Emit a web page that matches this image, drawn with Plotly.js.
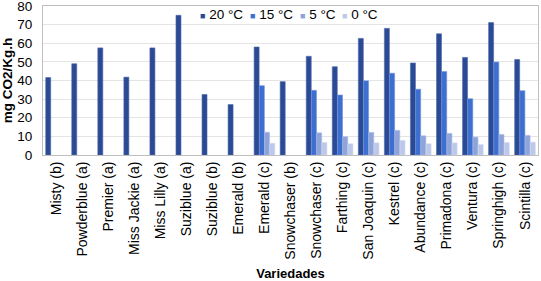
<!DOCTYPE html>
<html>
<head>
<meta charset="utf-8">
<script src="https://cdn.plot.ly/plotly-3.0.1.min.js"></script>
<style>
  html, body { margin: 0; padding: 0; background: #fff; }
  #chart { width: 541px; height: 281px; }
</style>
</head>
<body>
<div id="chart"></div>
<script>
// Respiration rate per variety, at four storage temperatures
const varieties = ['Misty (b)', 'Powderblue (a)', 'Premier (a)', 'Miss Jackie (a)', 'Miss Lilly (a)',
  'Suziblue (a)', 'Suziblue (b)', 'Emerald (b)', 'Emerald (c)', 'Snowchaser (b)', 'Snowchaser (c)',
  'Farthing (c)', 'San Joaquin (c)', 'Kestrel (c)', 'Abundance (c)', 'Primadona (c)', 'Ventura (c)',
  'Springhigh (c)', 'Scintilla (c)'];
const t20 = [41.6, 49.0, 57.5, 41.8, 57.5, 75.0, 32.5, 27.1, 58.0, 39.4, 53.0, 47.4, 62.6, 68.0, 49.4, 65.1, 52.4, 71.1, 51.3];
const t15 = [null, null, null, null, null, null, null, null, 37.2, null, 34.7, 32.2, 39.8, 43.9, 35.3, 44.8, 30.2, 49.9, 34.5];
const t5  = [null, null, null, null, null, null, null, null, 12.2, null, 11.9, 9.8, 12.1, 13.2, 10.3, 11.6, 9.6, 11.0, 10.5];
const t0  = [null, null, null, null, null, null, null, null, 6.3, null, 6.7, 6.0, 6.5, 7.8, 6.0, 6.5, 5.6, 6.7, 6.9];
const seriesNames = ['20 °C', '15 °C', '5 °C', '0 °C'];
const yTicks = [0, 10, 20, 30, 40, 50, 60, 70, 80];

const COL = ['#2b4a95', '#3d6fd0', '#8ea3da', '#bcc8ea'];
const EDGE = ['#4f6aab', '#6a8fdc', '#aab9e3', '#d0d9f0'];
const FONT = 'Liberation Sans, Arial, sans-serif';
// legend entry left edges (paper x) — drawn as annotations to get Excel-like tight spacing
const LEG_X = [0.314, 0.415, 0.516, 0.599];

const traces = [t20, t15, t5, t0].map((ys, i) => ({
  type: 'bar', x: varieties, y: ys, name: seriesNames[i], showlegend: false,
  marker: { color: COL[i], line: { color: EDGE[i], width: 0.6 } },
}));

const legendAnn = seriesNames.map((s, i) => ({
  xref: 'paper', yref: 'paper', x: LEG_X[i], y: 0.94, xanchor: 'left', yanchor: 'middle',
  showarrow: false, font: { size: 13.5, color: '#000' },
  text: `<span style="color:${COL[i]};font-size:9px">■</span> ${s}`,
}));

Plotly.newPlot('chart', traces, {
  width: 541, height: 281,
  margin: { l: 43, r: 3, t: 6, b: 126 },
  paper_bgcolor: '#fff', plot_bgcolor: '#fff',
  font: { family: FONT, color: '#000', size: 12 },
  barmode: 'group', bargap: 0.2, bargroupgap: 0.04,
  showlegend: false,
  annotations: legendAnn,
  xaxis: {
    tickangle: -90, tickfont: { size: 14 }, showline: true, linecolor: '#bfbfbf',
    mirror: true, ticks: '', automargin: false,
    title: { text: '<b>Variedades</b>', font: { size: 13 }, standoff: 12 },
  },
  yaxis: {
    range: [0, 80], tickvals: yTicks, tickfont: { size: 13.5 }, gridcolor: '#e4e4e4',
    showline: true, linecolor: '#bfbfbf', mirror: true, zeroline: false, ticks: '',
    ticklabelstandoff: 7, ticklabeloverflow: 'allow', automargin: false,
    title: { text: '<b>mg CO2/Kg.h</b>', font: { size: 13.5 }, standoff: 2 },
  },
}, { staticPlot: true });
</script>
</body>
</html>
